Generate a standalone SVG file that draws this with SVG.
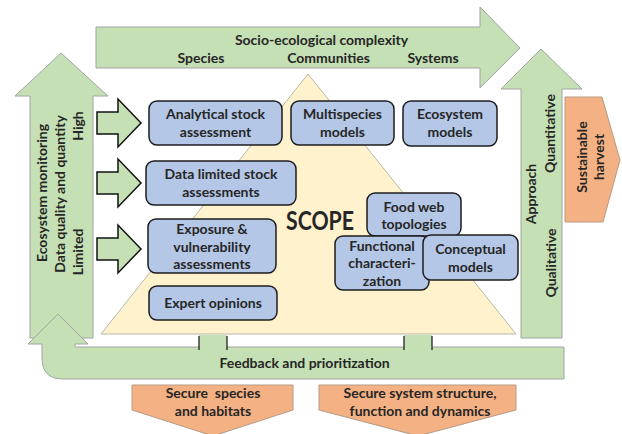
<svg xmlns="http://www.w3.org/2000/svg" width="622" height="434" viewBox="0 0 622 434">
<defs>
<style>
.g{fill:#c5e0b4;stroke:#a3a3a3;stroke-width:1}
.o{fill:#f4b183;stroke:#b59a86;stroke-width:1}
.b{fill:#b4c7e7;stroke:#1c1c1c;stroke-width:1.5}
.ba{fill:#c5e0b4;stroke:#111;stroke-width:1.5}
.t{font-family:Lato,"Open Sans","Liberation Sans",sans-serif;font-weight:bold;font-size:14px;fill:#262626;text-anchor:middle}
.tab{fill:#c5e0b4;stroke:none}
.tl{stroke:#111;stroke-width:1.2}
</style>
</defs>
<rect width="622" height="434" fill="#fff"/>

<g id="complexity-arrow">
<path class="g" d="M96,27 H480 V7 L520,48 L480,88 V68 H96 Z"/>
<text class="t" x="321.5" y="45">Socio-ecological complexity</text>
<text class="t" x="201" y="63">Species</text>
<text class="t" x="328.5" y="63">Communities</text>
<text class="t" x="433" y="63">Systems</text>
</g>

<g id="monitoring-arrow">
<path class="g" d="M61,53 L108,96 H93 V338 H30 V96 H15 Z"/>
<text class="t" transform="translate(47,193) rotate(-90)">Ecosystem monitoring</text>
<text class="t" transform="translate(65,194) rotate(-90)">Data quality and quantity</text>
<text class="t" transform="translate(83,126) rotate(-90)">High</text>
<text class="t" transform="translate(83,252) rotate(-90)">Limited</text>
</g>

<g id="approach-arrow">
<path class="g" d="M541,49 L582,89 H562 V338 H521 V89 H501 Z"/>
<text class="t" transform="translate(555,133.5) rotate(-90)">Quantitative</text>
<text class="t" transform="translate(536,194) rotate(-90)">Approach</text>
<text class="t" transform="translate(556,263) rotate(-90)">Qualitative</text>
</g>

<g id="sustainable-harvest">
<path class="o" d="M565,97 H602 L620,160 L603,222 H565 Z"/>
<text class="t" transform="translate(587,157) rotate(-90)">Sustainable</text>
<text class="t" transform="translate(604,157) rotate(-90)">harvest</text>
</g>

<g id="scope">
<path d="M308,74 L516,334 L101,334 Z" fill="#fff2cc" stroke="#b8b8a8" stroke-width="1"/>
<text class="t" x="320" y="230" style="font-size:26px" textLength="68" lengthAdjust="spacingAndGlyphs">SCOPE</text>
</g>

<g id="feedback">
<path class="g" d="M58,314 L88,344 H75 V347 H564 V379 H63 Q42,379 42,358 V344 H28 Z"/>
<text class="t" x="304.5" y="368">Feedback and prioritization</text>
</g>

<g id="connectors">
<rect class="tab" x="199" y="335" width="28" height="13"/>
<line class="tl" x1="199" y1="336" x2="199" y2="350"/>
<line class="tl" x1="227" y1="336" x2="227" y2="350"/>
<rect class="tab" x="404" y="335" width="28" height="13"/>
<line class="tl" x1="404" y1="336" x2="404" y2="350"/>
<line class="tl" x1="432" y1="336" x2="432" y2="350"/>
<path class="ba" d="M97,112 H118 V99 L141,123 L118,147 V134 H97 Z"/>
<path class="ba" d="M97,172 H118 V159 L141,183 L118,207 V194 H97 Z"/>
<path class="ba" d="M97,238 H118 V225 L141,249 L118,273 V260 H97 Z"/>
</g>

<g id="secure-species">
<path class="o" d="M132,385 H293 V410 L213,436 L132,410 Z"/>
<text class="t" x="213" y="398" style="white-space:pre">Secure  species</text>
<text class="t" x="213" y="416">and habitats</text>
</g>

<g id="secure-system">
<path class="o" d="M319,385 H516 V410 L418,436 L319,410 Z"/>
<text class="t" x="420" y="398">Secure system structure,</text>
<text class="t" x="420" y="416">function and dynamics</text>
</g>

<g id="analytical">
<rect class="b" x="149" y="101" width="133" height="44" rx="8"/>
<text class="t" x="215.5" y="119">Analytical stock</text>
<text class="t" x="215.5" y="137">assessment</text>
</g>
<g id="multispecies">
<rect class="b" x="291" y="101" width="103" height="44" rx="8"/>
<text class="t" x="342.5" y="119">Multispecies</text>
<text class="t" x="342.5" y="137">models</text>
</g>
<g id="ecosystem-models">
<rect class="b" x="403" y="101" width="94" height="45" rx="8"/>
<text class="t" x="450" y="119">Ecosystem</text>
<text class="t" x="450" y="137">models</text>
</g>
<g id="data-limited">
<rect class="b" x="146" y="161" width="150" height="44" rx="8"/>
<text class="t" x="221" y="179">Data limited stock</text>
<text class="t" x="221" y="197">assessments</text>
</g>
<g id="exposure">
<rect class="b" x="148" y="219" width="128" height="54" rx="8"/>
<text class="t" x="212" y="234">Exposure &amp;</text>
<text class="t" x="212" y="252">vulnerability</text>
<text class="t" x="212" y="269">assessments</text>
</g>
<g id="expert">
<rect class="b" x="149" y="286" width="128" height="34" rx="8"/>
<text class="t" x="213" y="308">Expert opinions</text>
</g>
<g id="food-web">
<rect class="b" x="367" y="193" width="94" height="43" rx="8"/>
<text class="t" x="414" y="212">Food web</text>
<text class="t" x="414" y="229">topologies</text>
</g>
<g id="functional">
<rect class="b" x="335" y="236" width="94" height="54" rx="8"/>
<text class="t" x="382" y="251">Functional</text>
<text class="t" x="382" y="268">characteri-</text>
<text class="t" x="382" y="286">zation</text>
</g>
<g id="conceptual">
<rect class="b" x="423" y="235" width="95" height="45" rx="8"/>
<text class="t" x="470.5" y="254">Conceptual</text>
<text class="t" x="470.5" y="272">models</text>
</g>
</svg>
